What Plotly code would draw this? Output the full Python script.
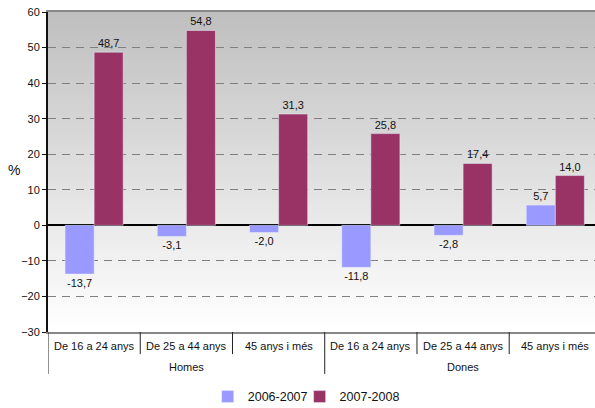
import plotly.graph_objects as go

groups = ["Homes", "Homes", "Homes", "Dones", "Dones", "Dones"]
ages = ["De 16 a 24 anys", "De 25 a 44 anys", "45 anys i més",
        "De 16 a 24 anys", "De 25 a 44 anys", "45 anys i més"]
s2006_2007 = [-13.7, -3.1, -2.0, -11.8, -2.8, 5.7]
s2007_2008 = [48.7, 54.8, 31.3, 25.8, 17.4, 14.0]
series_names = ["2006-2007", "2007-2008"]
y_ticks = [-30, -20, -10, 0, 10, 20, 30, 40, 50, 60]

FONT = "Liberation Sans, Arial, sans-serif"
xpos = list(range(len(ages)))

fig = go.Figure()
fig.add_trace(go.Bar(x=xpos, y=s2006_2007, name=series_names[0],
                     marker_color="#9999ff", texttemplate="%{y:.1f}",
                     textposition="outside", cliponaxis=False, legend="legend",
                     textfont=dict(size=11, color="#111", family=FONT)))
fig.add_trace(go.Bar(x=xpos, y=s2007_2008, name=series_names[1],
                     marker_color="#993366", texttemplate="%{y:.1f}",
                     textposition="outside", cliponaxis=False, legend="legend2",
                     textfont=dict(size=11, color="#111", family=FONT)))

# vertical gradient background
n = 80
top = (191, 191, 191)
bot = (255, 255, 255)
shapes = []
for i in range(n):
    t = i / (n - 1)
    c = tuple(int(round(top[k] + (bot[k] - top[k]) * t)) for k in range(3))
    shapes.append(dict(type="rect", xref="paper", yref="paper",
                       x0=0, x1=1, y0=1 - (i + 1) / n, y1=1 - i / n + 0.002,
                       fillcolor="rgb(%d,%d,%d)" % c, line_width=0, layer="below"))

# category boundary ticks (short) and group dividers (long)
annotations = []
for i in range(len(ages)):
    b = i - 0.5
    long_div = (i == 0) or (groups[i] != groups[i - 1])
    shapes.append(dict(type="line", xref="x", yref="paper", x0=b, x1=b,
                       y0=0, y1=-0.131 if long_div else -0.069,
                       line=dict(color="#222", width=1)))
    annotations.append(dict(text=ages[i], xref="x", yref="paper", x=i, y=-0.044,
                            xanchor="center", yanchor="middle", showarrow=False,
                            font=dict(size=11, color="#111")))
# group labels
seen = []
for g in groups:
    if g not in seen:
        seen.append(g)
for g in seen:
    idx = [i for i, gg in enumerate(groups) if gg == g]
    annotations.append(dict(text=g, xref="x", yref="paper",
                            x=sum(idx) / len(idx), y=-0.11,
                            xanchor="center", yanchor="middle", showarrow=False,
                            font=dict(size=11, color="#111")))
annotations.append(dict(text="%", xref="paper", yref="paper", x=-0.062, y=0.506,
                        xanchor="center", yanchor="middle",
                        showarrow=False, font=dict(size=14, color="#111")))

legend_common = dict(orientation="h", xanchor="left", y=-0.203, yanchor="middle",
                     font=dict(size=12.5, color="#111"), itemwidth=30,
                     bgcolor="rgba(0,0,0,0)")

fig.update_layout(
    width=595, height=408,
    margin=dict(l=48, r=0, t=12, b=76, autoexpand=False),
    paper_bgcolor="white", plot_bgcolor="white",
    separators=",.",
    barmode="group", bargap=0.37, bargroupgap=0,
    font=dict(family=FONT, size=11, color="#111"),
    showlegend=True,
    legend=dict(x=0.292, **legend_common),
    legend2=dict(x=0.46, **legend_common),
    xaxis=dict(range=[-0.5, 5.43], automargin=False,
               showline=True, linecolor="#888", linewidth=2, mirror=True,
               showticklabels=False, ticks="", showgrid=False, zeroline=False),
    yaxis=dict(range=[-30, 60], tickvals=y_ticks, showline=True, linecolor="#111",
               automargin=False,
               linewidth=2, ticks="outside", ticklen=4, tickcolor="#111",
               showgrid=True, gridcolor="#808080", griddash="8px,6px", gridwidth=1,
               zeroline=True, zerolinecolor="#000", zerolinewidth=1.5,
               tickfont=dict(size=11, color="#111")),
    shapes=shapes,
    annotations=annotations,
)

fig.write_html("out.html", config={"displayModeBar": False},
               post_script="document.body.style.margin='0';document.body.style.overflow='hidden';")
